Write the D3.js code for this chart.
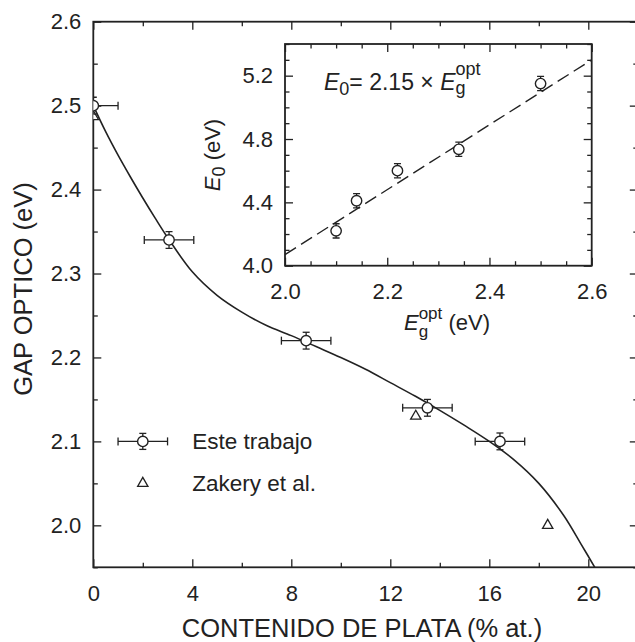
<!DOCTYPE html>
<html lang="es">
<head>
<meta charset="UTF-8">
<title>Gap optico vs contenido de plata</title>
<script src="https://d3js.org/d3.v7.min.js"></script>
<style>
  body { margin: 0; background: #fff; }
  svg text { font-family: "Liberation Sans", Arial, sans-serif; fill: #222; }
  .axis line { stroke: #222; stroke-width: 1.3; }
</style>
</head>
<body>
<script>
// main panel data
var silver    = [0, 3.06, 8.6, 13.5, 16.43];
var gap       = [2.50, 2.34, 2.22, 2.14, 2.10];
var silverErr = [1, 1, 1, 1, 1];
var gapErr    = [0.01, 0.01, 0.01, 0.01, 0.01];

var zakeryX = [0, 13.03, 18.36];
var zakeryY = [2.487, 2.13, 2.00];

// fitted curve
var curveX = [0, 0.5, 1, 1.5, 2, 2.5, 3, 4, 5, 6, 7, 8, 9, 10, 11, 12, 13, 14, 15, 16, 17, 18, 19, 19.7, 20.3];
var curveY = [2.50, 2.469, 2.441, 2.415, 2.390, 2.366, 2.343, 2.302, 2.274, 2.254, 2.238, 2.226, 2.213,
              2.200, 2.186, 2.170, 2.154, 2.137, 2.119, 2.100, 2.078, 2.050, 2.012, 1.978, 1.948];

var xTicks = [0, 4, 8, 12, 16, 20];
var xMinor = [2, 6, 10, 14, 18, 22];
var yTicks = [2.0, 2.1, 2.2, 2.3, 2.4, 2.5, 2.6];
var yMinor = [1.95, 2.05, 2.15, 2.25, 2.35, 2.45, 2.55];

// inset data
var eg     = [2.10, 2.14, 2.22, 2.34, 2.50];
var e0     = [4.22, 4.41, 4.60, 4.735, 5.15];
var e0Err  = [0.045, 0.045, 0.045, 0.045, 0.045];
var fitX   = [2.0, 2.6];
var fitY   = [4.07, 5.30];

var inXTicks = [2.0, 2.2, 2.4, 2.6];
var inXMinor = [2.05, 2.1, 2.15, 2.25, 2.3, 2.35, 2.45, 2.5, 2.55];
var inYTicks = [4.0, 4.4, 4.8, 5.2];
var inYMinor = [4.1, 4.2, 4.3, 4.5, 4.6, 4.7, 4.9, 5.0, 5.1, 5.3, 5.4];

var w = 635, h = 642;
var svg = d3.select("body").append("svg").attr("width", w).attr("height", h);

// scales
var x = d3.scaleLinear().domain([0, 22]).range([93.3, 637.8]);
var y = d3.scaleLinear().domain([1.95, 2.6]).range([567.3, 21.7]);

var ix = d3.scaleLinear().domain([2.0, 2.6]).range([285, 591.7]);
var iy = d3.scaleLinear().domain([4.0, 5.4]).range([265.7, 44]);

function noDomain(g) { g.select(".domain").remove(); }

function drawAxes(xs, ys, xt, xm, yt, ym, fmtX, fmtY, fs) {
  var x0 = xs.range()[0], x1 = xs.range()[1], y0 = ys.range()[0], y1 = ys.range()[1];
  svg.append("g").attr("class", "axis").attr("transform", "translate(0," + y0 + ")")
    .call(d3.axisBottom(xs).tickValues(xt).tickSize(-8).tickPadding(18).tickFormat(fmtX)).call(noDomain);
  svg.append("g").attr("class", "axis").attr("transform", "translate(0," + y0 + ")")
    .call(d3.axisBottom(xs).tickValues(xm).tickSize(-4.5).tickFormat("")).call(noDomain);
  svg.append("g").attr("class", "axis").attr("transform", "translate(0," + y1 + ")")
    .call(d3.axisTop(xs).tickValues(xt).tickSize(-8).tickFormat("")).call(noDomain);
  svg.append("g").attr("class", "axis").attr("transform", "translate(0," + y1 + ")")
    .call(d3.axisTop(xs).tickValues(xm).tickSize(-4.5).tickFormat("")).call(noDomain);
  svg.append("g").attr("class", "axis").attr("transform", "translate(" + x0 + ",0)")
    .call(d3.axisLeft(ys).tickValues(yt).tickSize(-8).tickPadding(12).tickFormat(fmtY)).call(noDomain);
  svg.append("g").attr("class", "axis").attr("transform", "translate(" + x0 + ",0)")
    .call(d3.axisLeft(ys).tickValues(ym).tickSize(-4.5).tickFormat("")).call(noDomain);
  svg.append("g").attr("class", "axis").attr("transform", "translate(" + x1 + ",0)")
    .call(d3.axisRight(ys).tickValues(yt).tickSize(-8).tickFormat("")).call(noDomain);
  svg.append("g").attr("class", "axis").attr("transform", "translate(" + x1 + ",0)")
    .call(d3.axisRight(ys).tickValues(ym).tickSize(-4.5).tickFormat("")).call(noDomain);
  svg.selectAll(".axis text").attr("font-size", fs).attr("font-family", "Liberation Sans, Arial, sans-serif").attr("fill", "#222");
  svg.append("rect")
    .attr("x", x0).attr("y", y1).attr("width", x1 - x0).attr("height", y0 - y1)
    .attr("fill", "none").attr("stroke", "#222").attr("stroke-width", 1.8);
}

// point with error bars
function errPoint(g, cx, cy, exL, exR, eyT, eyB) {
  var s = "#222";
  if (exL !== null) {
    g.append("line").attr("x1", exL).attr("x2", exR).attr("y1", cy).attr("y2", cy).attr("stroke", s).attr("stroke-width", 1.3);
    [exL, exR].forEach(function(v) {
      g.append("line").attr("x1", v).attr("x2", v).attr("y1", cy - 4).attr("y2", cy + 4).attr("stroke", s).attr("stroke-width", 1.3);
    });
  }
  g.append("line").attr("x1", cx).attr("x2", cx).attr("y1", eyT).attr("y2", eyB).attr("stroke", s).attr("stroke-width", 1.3);
  [eyT, eyB].forEach(function(v) {
    g.append("line").attr("x1", cx - 3.5).attr("x2", cx + 3.5).attr("y1", v).attr("y2", v).attr("stroke", s).attr("stroke-width", 1.3);
  });
  g.append("circle").attr("cx", cx).attr("cy", cy).attr("r", 5.2)
    .attr("fill", "#fff").attr("stroke", s).attr("stroke-width", 1.4);
}

// ---------- main panel ----------
svg.append("clipPath").attr("id", "mainClip").append("rect")
  .attr("x", x(0)).attr("y", y(2.6)).attr("width", x(22) - x(0)).attr("height", y(1.95) - y(2.6));

drawAxes(x, y, xTicks, xMinor, yTicks, yMinor, d3.format("d"), d3.format(".1f"), "22px");

var plot = svg.append("g").attr("clip-path", "url(#mainClip)");

var curveData = curveX.map(function(d, i) { return [d, curveY[i]]; });
plot.append("path")
  .datum(curveData)
  .attr("fill", "none").attr("stroke", "#222").attr("stroke-width", 1.6)
  .attr("d", d3.line().x(function(d){ return x(d[0]); }).y(function(d){ return y(d[1]); }).curve(d3.curveCatmullRom));

var tri = d3.symbol().type(d3.symbolTriangle).size(46);
zakeryX.forEach(function(d, i) {
  plot.append("path").attr("d", tri)
    .attr("transform", "translate(" + x(d) + "," + y(zakeryY[i]) + ")")
    .attr("fill", "#fff").attr("stroke", "#222").attr("stroke-width", 1.3);
});

silver.forEach(function(d, i) {
  errPoint(plot, x(d), y(gap[i]), x(d - silverErr[i]), x(d + silverErr[i]),
           y(gap[i] + gapErr[i]), y(gap[i] - gapErr[i]));
});

// legend
var leg = svg.append("g");
errPoint(leg, x(2), y(2.10), x(1), x(3), y(2.10) - 8, y(2.10) + 8);
leg.append("path").attr("d", tri)
  .attr("transform", "translate(" + x(2) + "," + y(2.05) + ")")
  .attr("fill", "#fff").attr("stroke", "#222").attr("stroke-width", 1.3);
leg.append("text").attr("x", x(4)).attr("y", y(2.10)).attr("dy", "0.34em").attr("font-size", "22.5px").text("Este trabajo");
leg.append("text").attr("x", x(4)).attr("y", y(2.05)).attr("dy", "0.34em").attr("font-size", "22.5px").text("Zakery et al.");

// axis titles
svg.append("text")
  .attr("text-anchor", "middle")
  .attr("transform", "translate(32,289) rotate(-90)")
  .attr("font-size", "25.5px")
  .text("GAP OPTICO (eV)");

svg.append("text")
  .attr("text-anchor", "middle")
  .attr("x", 362).attr("y", 637)
  .attr("font-size", "25.5px")
  .text("CONTENIDO DE PLATA (% at.)");

// ---------- inset ----------
svg.append("rect")
  .attr("x", ix(2.0)).attr("y", iy(5.4)).attr("width", ix(2.6) - ix(2.0)).attr("height", iy(4.0) - iy(5.4))
  .attr("fill", "#fff");

drawAxes(ix, iy, inXTicks, inXMinor, inYTicks, inYMinor, d3.format(".1f"), d3.format(".1f"), "22px");

svg.append("clipPath").attr("id", "insetClip").append("rect")
  .attr("x", ix(2.0)).attr("y", iy(5.4)).attr("width", ix(2.6) - ix(2.0)).attr("height", iy(4.0) - iy(5.4));

var inset = svg.append("g").attr("clip-path", "url(#insetClip)");

inset.append("path")
  .datum(fitX.map(function(d, i) { return [d, fitY[i]]; }))
  .attr("fill", "none").attr("stroke", "#222").attr("stroke-width", 1.4)
  .attr("stroke-dasharray", "13,6")
  .attr("d", d3.line().x(function(d){ return ix(d[0]); }).y(function(d){ return iy(d[1]); }));

eg.forEach(function(d, i) {
  errPoint(inset, ix(d), iy(e0[i]), null, null, iy(e0[i] + e0Err[i]), iy(e0[i] - e0Err[i]));
});

// equation
var eq = svg.append("text").attr("x", 324).attr("y", 90).attr("font-size", "23px");
eq.append("tspan").attr("font-style", "italic").text("E");
eq.append("tspan").attr("font-size", "18px").attr("dy", 5).text("0");
eq.append("tspan").attr("dy", -5).text("= 2.15 × ");
eq.append("tspan").attr("font-style", "italic").text("E");
eq.append("tspan").attr("font-size", "18px").attr("dy", 4).text("g");
eq.append("tspan").attr("font-size", "18px").attr("dx", -10).attr("dy", -19).text("opt");

// inset x title
var ixt = svg.append("text").attr("x", 404).attr("y", 330).attr("font-size", "22px");
ixt.append("tspan").attr("font-style", "italic").text("E");
ixt.append("tspan").attr("font-size", "17px").attr("dy", 7).text("g");
ixt.append("tspan").attr("font-size", "17px").attr("dx", -9.5).attr("dy", -18).text("opt");
ixt.append("tspan").attr("dy", 11).text("  (eV)");

// inset y title
var iyt = svg.append("text").attr("text-anchor", "middle")
  .attr("transform", "translate(220,155) rotate(-90)").attr("font-size", "22px");
iyt.append("tspan").attr("font-style", "italic").text("E");
iyt.append("tspan").attr("font-size", "18px").attr("dy", 5).text("0");
iyt.append("tspan").attr("dy", -5).text(" (eV)");
</script>
</body>
</html>
